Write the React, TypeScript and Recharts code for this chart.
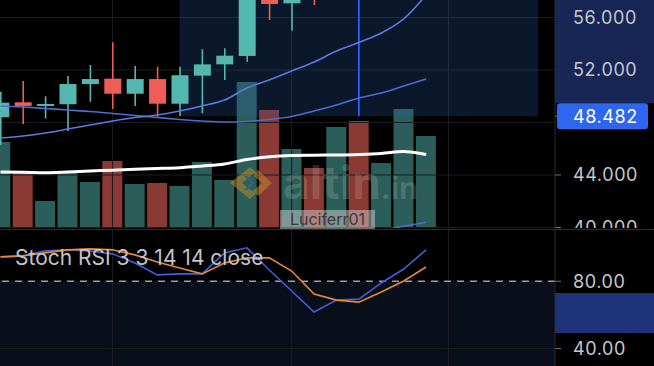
import React from 'react';
import { ComposedChart, Bar, Line, XAxis, YAxis, Cell, ReferenceLine, ReferenceArea } from 'recharts';

// candle index, one per session
const bars = [0, 1, 2, 3, 4, 5, 6, 7, 8, 9, 10, 11, 12, 13, 14, 15, 16, 17, 18, 19];

const opens = [48.4, 49.54, 49.26, 49.39, 50.93, 51.34, 50.19, 51.31, 49.43, 51.57, 52.43, 53.07, 58.2, 57.08, 59.5, 58.2, 60.5, 59.3, 61.0, 63.4];
const highs = [50.35, 51.16, 50.0, 51.54, 52.38, 54.11, 52.3, 52.25, 52.25, 53.58, 53.65, 59.2, 59.0, 59.6, 60.0, 61.0, 61.2, 61.4, 63.8, 64.6];
const lows = [46.29, 47.89, 48.3, 47.35, 49.58, 49.03, 49.26, 48.44, 48.5, 48.7, 51.24, 52.63, 55.81, 54.99, 56.95, 57.6, 58.1, 58.6, 60.2, 62.7];
const closes = [49.51, 49.26, 49.41, 50.93, 51.31, 50.19, 51.31, 49.43, 51.6, 52.43, 53.09, 58.6, 57.03, 58.8, 58.2, 60.5, 59.3, 61.0, 63.4, 64.2];

const volumes = [860, 550, 270, 550, 460, 670, 440, 450, 420, 660, 480, 1460, 1180, 790, 600, 1010, 1070, 650, 1190, 920];
const volumeMA = [560, 558, 553, 560, 570, 578, 588, 595, 603, 620, 640, 685, 713, 725, 728, 730, 735, 745, 765, 735];

const maFast = [46.82, 46.97, 47.2, 47.5, 47.81, 48.11, 48.38, 48.57, 48.88, 49.26, 49.71, 50.63, 51.24, 51.92, 52.61, 53.45, 54.1, 54.82, 55.89, 57.71];
const maSlow = [49.26, 49.18, 49.07, 48.95, 48.84, 48.69, 48.53, 48.38, 48.23, 48.11, 48.04, 48.08, 48.23, 48.46, 48.88, 49.33, 49.87, 50.25, 50.78, 51.31];
const maLong = [null, null, null, null, null, null, null, null, null, null, null, null, null, null, null, null, 39.5, 39.8, 40.1, 40.4];

const stochK = [94.5, 95.1, 98.1, 98.7, 98.1, 96.3, 90.9, 83.8, 84.4, 84.4, 96.9, 99.9, 86.7, 74.2, 61.7, 68.8, 69.4, 79.0, 87.3, 98.7];
const stochD = [94.5, 95.1, 96.9, 98.7, 99.3, 98.7, 95.7, 91.5, 87.9, 84.4, 90.9, 93.9, 93.9, 86.1, 72.4, 68.8, 67.6, 73.6, 80.2, 88.5];

const priceTicks = [40, 44, 48.482, 52, 56];
const priceGrid = [40, 44, 48, 52, 56];
const stochTicks = [40, 80];
const timeGrid = [5, 13, 20];

// date & price range drawing
const rangeFrom = 8;
const rangeTo = 24;
const rangeMid = 16;
const rangeLow = 48.482;

const X_DOMAIN: [number, number] = [-0.022, 24.755];
const PRICE_DOMAIN: [number, number] = [39.962, 57.333];
const VOLUME_DOMAIN: [number, number] = [0, 2280];
const STOCH_DOMAIN: [number, number] = [29.6, 110.5];

const UP = '#55b8b0';
const DOWN = '#ee5d57';
const VOL_UP = '#2b5e59';
const VOL_DOWN = '#8a3935';
const FONT = 'Inter, "Noto Sans", sans-serif';
const AXIS_TEXT = '#c4c7cf';
const GRID = '#1b1d22';

const rows = bars.map((i, n) => ({
  i,
  open: opens[n],
  high: highs[n],
  low: lows[n],
  close: closes[n],
  volume: volumes[n],
  volumeMA: volumeMA[n],
  maFast: maFast[n],
  maSlow: maSlow[n],
  maLong: maLong[n],
  k: stochK[n],
  d: stochD[n],
}));

const Candle = (props: any) => {
  const { x, y, width, height, payload } = props;
  const { open, close, high, low } = payload;
  const color = close >= open ? UP : DOWN;
  const perUnit = height / (high - low);
  const top = y + (high - Math.max(open, close)) * perUnit;
  const body = Math.max(Math.abs(open - close) * perUnit, 1.5);
  const cx = x + width / 2;
  return (
    <g>
      <line x1={cx} x2={cx} y1={y} y2={y + height} stroke={color} strokeWidth={1.6} />
      <rect x={x} y={top} width={width} height={body} fill={color} />
    </g>
  );
};

const PriceTick = (props: any) => {
  const { x, y, payload } = props;
  const v = payload.value;
  if (v === rangeLow) {
    const axisX = x - 18;
    return (
      <g>
        <rect x={axisX} y={0} width={99} height={y - 13} fill="#172654" />
        <rect x={axisX + 2} y={y - 13} width={91} height={26} rx={3} fill="#2f66f0" />
        <text x={x} y={y} dy="0.36em" fill="#ffffff" fontSize={18} fontFamily={FONT} letterSpacing={0.6}>
          {v.toFixed(3)}
        </text>
      </g>
    );
  }
  return (
    <text x={x} y={y} dy="0.36em" fill={AXIS_TEXT} fontSize={18} fontFamily={FONT} letterSpacing={0.6}>
      {v.toFixed(3)}
    </text>
  );
};

const StochTick = (props: any) => {
  const { x, y, payload } = props;
  return (
    <text x={x} y={y} dy="0.36em" fill={AXIS_TEXT} fontSize={18} fontFamily={FONT} letterSpacing={0.6}>
      {payload.value.toFixed(2)}
    </text>
  );
};

const noMargin = { top: 0, right: 0, bottom: 0, left: 0 };

export default function App() {
  return (
    <div style={{ position: 'absolute', left: 0, top: 0, width: 654, height: 366, background: '#000', overflow: 'hidden' }}>
      {/* volume layer */}
      <div style={{ position: 'absolute', left: 0, top: 0 }}>
        <ComposedChart width={654} height={228} data={rows} margin={{ ...noMargin, right: 99 }}>
          <XAxis dataKey="i" type="number" domain={X_DOMAIN} allowDataOverflow hide />
          <YAxis yAxisId="v" domain={VOLUME_DOMAIN} allowDataOverflow hide />
          <YAxis yAxisId="p" domain={PRICE_DOMAIN} allowDataOverflow hide />
          {priceGrid.map((g) => (
            <ReferenceLine key={'h' + g} yAxisId="p" y={g} stroke={GRID} strokeWidth={1} />
          ))}
          {timeGrid.map((g) => (
            <ReferenceLine key={'v' + g} yAxisId="p" x={g} stroke={GRID} strokeWidth={1} ifOverflow="hidden" />
          ))}
          <Bar yAxisId="v" dataKey="volume" barSize={20} isAnimationActive={false}>
            {rows.map((r) => (
              <Cell key={r.i} fill={r.close >= r.open ? VOL_UP : VOL_DOWN} />
            ))}
          </Bar>
          <Line yAxisId="v" dataKey="volumeMA" type="monotone" stroke="#ffffff" strokeWidth={3} dot={false} isAnimationActive={false} />
        </ComposedChart>
      </div>

      {/* price layer */}
      <div style={{ position: 'absolute', left: 0, top: 0 }}>
        <ComposedChart width={654} height={228} data={rows} margin={noMargin}>
          <XAxis dataKey="i" type="number" domain={X_DOMAIN} allowDataOverflow hide />
          <YAxis
            yAxisId="p"
            orientation="right"
            width={99}
            domain={PRICE_DOMAIN}
            allowDataOverflow
            ticks={priceTicks}
            interval={0}
            tickSize={6}
            tickMargin={12}
            tick={<PriceTick />}
            axisLine={{ stroke: '#2b2d31' }}
            tickLine={{ stroke: '#6a6d75' }}
          />
          <ReferenceArea
            yAxisId="p"
            x1={rangeFrom}
            x2={rangeTo}
            y1={rangeLow}
            y2={62}
            ifOverflow="hidden"
            fill="#2a5aa8"
            fillOpacity={0.25}
            stroke="none"
          />
          <ReferenceLine
            yAxisId="p"
            segment={[{ x: rangeMid, y: rangeLow }, { x: rangeMid, y: 62 }]}
            ifOverflow="hidden"
            stroke="#2f5cff"
            strokeWidth={1.8}
          />
          <Line yAxisId="p" dataKey="maSlow" type="monotone" stroke="#4d6cd6" strokeWidth={1.6} dot={false} isAnimationActive={false} />
          <Line yAxisId="p" dataKey="maFast" type="monotone" stroke="#5a7be0" strokeWidth={1.6} dot={false} isAnimationActive={false} />
          <Line yAxisId="p" dataKey="maLong" type="monotone" stroke="#4d6cd6" strokeWidth={1.4} dot={false} isAnimationActive={false} />
          <Bar
            yAxisId="p"
            dataKey={(r: any) => [r.low, r.high]}
            barSize={17}
            shape={(p: any) => <Candle {...p} />}
            isAnimationActive={false}
          />
        </ComposedChart>
      </div>

      {/* watermark */}
      <svg width={654} height={231} style={{ position: 'absolute', left: 0, top: 0 }}>
        <g opacity={0.5}>
          <polygon points="250,167 230,183 250,199 256,194 242,183 256,172" fill="#c98f2c" />
          <polygon points="258,170 272,183 258,196 253,191 262,183 253,175" fill="#c98f2c" />
          <polygon points="244,176 251,183 244,190 248,190 255,183 248,176" fill="#3e6a9c" />
        </g>
        <text x={283} y={199} fontFamily={FONT} fontWeight={700} fontSize={46} fill="#d8d8c8" fillOpacity={0.2}>
          altin
          <tspan fontSize={30}>.in</tspan>
        </text>
        <rect x={280} y={210} width={95} height={19} fill="#cfcfcf" fillOpacity={0.5} />
        <text x={327.5} y={225} textAnchor="middle" fontFamily={FONT} fontSize={16} fill="#3a3a3a">
          Luciferr01
        </text>
      </svg>

      <div style={{ position: 'absolute', left: 0, top: 229, width: 654, height: 1, background: '#2b2d31' }} />

      {/* stochastic RSI pane */}
      <div style={{ position: 'absolute', left: 0, top: 230 }}>
        <ComposedChart width={654} height={136} data={rows} margin={noMargin}>
          <XAxis dataKey="i" type="number" domain={X_DOMAIN} allowDataOverflow hide />
          <YAxis
            orientation="right"
            width={99}
            domain={STOCH_DOMAIN}
            allowDataOverflow
            ticks={stochTicks}
            interval={0}
            tickSize={6}
            tickMargin={12}
            tick={<StochTick />}
            axisLine={{ stroke: '#2b2d31' }}
            tickLine={{ stroke: '#6a6d75' }}
          />
          <ReferenceArea y1={20} y2={80} ifOverflow="hidden" fill="#1b2a4a" fillOpacity={0.35} stroke="none" />
          {timeGrid.map((g) => (
            <ReferenceLine key={'sv' + g} x={g} stroke={GRID} strokeWidth={1} ifOverflow="hidden" />
          ))}
          <ReferenceLine y={40} stroke={GRID} strokeWidth={1} />
          <ReferenceLine y={80} stroke="#9a9da5" strokeWidth={1.5} strokeDasharray="7 6" />
          <Line dataKey="k" type="linear" stroke="#3d5fe0" strokeWidth={1.6} dot={false} isAnimationActive={false} />
          <Line dataKey="d" type="linear" stroke="#e8873a" strokeWidth={1.6} dot={false} isAnimationActive={false} />
        </ComposedChart>
      </div>

      <div style={{ position: 'absolute', left: 555, top: 293, width: 99, height: 40, background: '#1e327a' }} />

      <div
        style={{
          position: 'absolute',
          left: 15,
          top: 247,
          fontFamily: FONT,
          fontSize: 21,
          lineHeight: '21px',
          color: '#c3c4c8',
          whiteSpace: 'nowrap',
        }}
      >
        Stoch RSI 3 3 14 14 close
      </div>
    </div>
  );
}
